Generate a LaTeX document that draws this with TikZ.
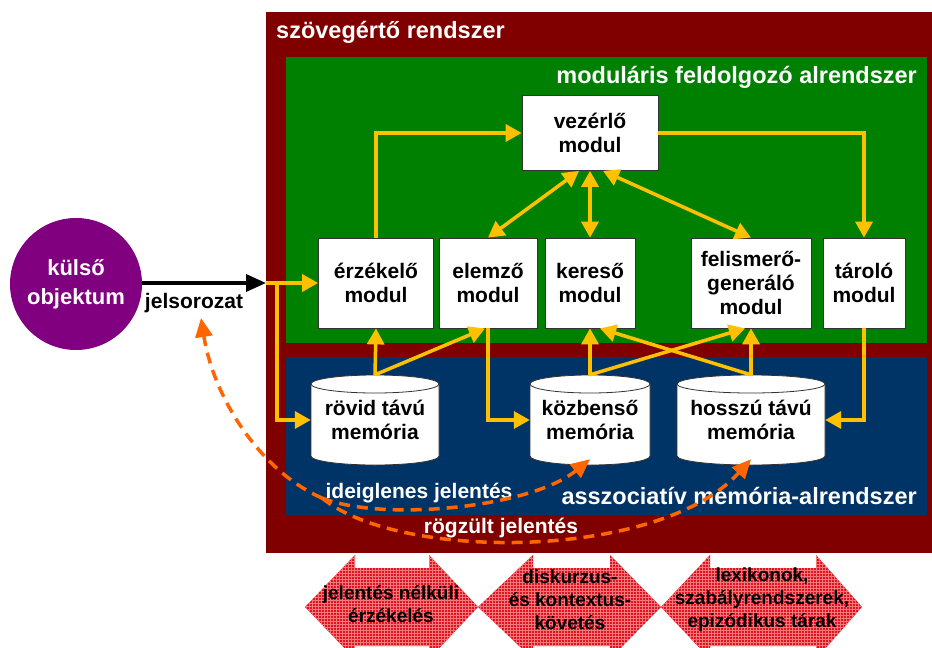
\documentclass[tikz,border=0pt]{standalone}
\usepackage{fontspec}
\setmainfont{Liberation Sans}
\usetikzlibrary{arrows.meta,patterns}

\definecolor{framered}{RGB}{128,0,0}
\definecolor{modgreen}{RGB}{0,128,0}
\definecolor{memblue}{RGB}{0,51,102}
\definecolor{objpurple}{RGB}{128,0,128}
\definecolor{flow}{RGB}{255,192,0}
\definecolor{recall}{RGB}{255,102,0}
\definecolor{stagered}{RGB}{222,20,32}
\definecolor{stagegrid}{RGB}{245,120,125}
\definecolor{boxline}{RGB}{50,50,50}

% memory drum: centre x, centre y, half width (height 90, lid 9)
\newcommand\memdrum[3]{%
  \draw[boxline, line width=0.8pt, fill=white]
    ({#1-#3},{#2-36}) -- ({#1-#3},{#2+36})
    arc[start angle=180, end angle=360, x radius=#3pt, y radius=9pt]
    -- ({#1+#3},{#2-36})
    arc[start angle=0, end angle=180, x radius=#3pt, y radius=9pt] -- cycle;
  \draw[boxline, line width=0.8pt] ({#1-#3},{#2-36})
    arc[start angle=180, end angle=360, x radius=#3pt, y radius=9pt];}

% hatched double arrow: left tip, left head base, right head base, right tip
\newcommand\stagearrow[4]{%
  \path[stagefill] (#1,607) -- (#2,555) -- (#2,568) -- (#3,568) -- (#3,555)
    -- (#4,607) -- (#3,659) -- (#3,646) -- (#2,646) -- (#2,659) -- cycle;}

\begin{document}
\begin{tikzpicture}[x=1pt, y=-1pt,
  modbox/.style={draw=boxline, line width=0.8pt, fill=white, align=center,
    inner sep=0pt, font=\bfseries\fontsize{21}{24}\selectfont},
  memtext/.style={align=center, inner sep=0pt, minimum height=90pt,
    font=\bfseries\fontsize{21}{24}\selectfont},
  titletext/.style={text=white, inner sep=0pt,
    font=\bfseries\fontsize{23.5}{27}\selectfont},
  labeltext/.style={inner sep=0pt, font=\bfseries\fontsize{21}{24}\selectfont},
  stagetext/.style={align=center, inner sep=0pt,
    font=\bfseries\fontsize{19}{23}\selectfont},
  stagefill/.style={fill=stagered, postaction={pattern=grid, pattern color=stagegrid}},
  flowarrow/.style={draw=flow, line width=3.5pt, -{Triangle[length=16pt,width=17pt]}},
  flowboth/.style={draw=flow, line width=3.5pt,
    {Triangle[length=16pt,width=17pt]}-{Triangle[length=16pt,width=17pt]}},
  recallline/.style={draw=recall, line width=3.5pt, dash pattern=on 11pt off 7pt},
  recallarrow/.style={recallline, -{Triangle[length=19pt,width=17pt]}}]

\useasboundingbox (0,0) rectangle (932,648);

% nested subsystems
\fill[framered] (266,12) rectangle (932,553);
\fill[modgreen] (286,57) rectangle (927,343);
\fill[memblue] (286,357) rectangle (927,515);

\node[titletext, anchor=west] (systitle) at (276,32) {szövegértő rendszer};
\node[titletext, anchor=east] (modtitle) at (917,77) {moduláris feldolgozó alrendszer};
\node[titletext, anchor=east] (memtitle) at (917,496) {asszociatív memória-alrendszer};

% processing modules
\node[modbox, minimum width=136pt, minimum height=75pt] (vez) at (590,133) {vezérlő\\modul};
\node[modbox, minimum width=115pt, minimum height=90pt] (erz) at (376,283) {érzékelő\\modul};
\node[modbox, minimum width=98pt, minimum height=90pt] (elem) at (488,283) {elemző\\modul};
\node[modbox, minimum width=90pt, minimum height=90pt] (ker) at (590,283) {kereső\\modul};
\node[modbox, minimum width=120pt, minimum height=90pt] (fel) at (751,283) {felismerő-\\generáló\\modul};
\node[modbox, minimum width=82pt, minimum height=90pt] (tar) at (864,283) {tároló\\modul};

% memories
\memdrum{375}{420}{64}
\memdrum{590}{420}{60}
\memdrum{751}{420}{74}
\node[memtext, minimum width=128pt] (rm) at (375,420) {rövid távú\\memória};
\node[memtext, minimum width=120pt] (km) at (590,420) {közbenső\\memória};
\node[memtext, minimum width=148pt] (hm) at (751,420) {hosszú távú\\memória};

% external object and input signal
\node[circle, fill=objpurple, minimum size=132pt, inner sep=0pt, align=center, text=white,
  font=\bfseries\fontsize{22}{29}\selectfont] (obj) at (76,284) {külső\\objektum};
\coordinate (inp) at (266,283);
\coordinate (split) at (277,283);
\draw[black, line width=3.5pt, -{Triangle[length=20pt,width=17pt]}] (obj.east |- inp) -- (inp);
\node[labeltext] (jel) at (194,303) {jelsorozat};

% module connections
\draw[flowarrow] (inp) -- (erz.west);
\draw[flowarrow] (split) |- (rm.west);
\draw[flowarrow] (erz.north) |- (vez.west);
\draw[flowarrow] (vez.east) -| (tar.north);
\draw[flowboth] ([xshift=-11pt]vez.south) -- (elem.north);
\draw[flowboth] (vez.south) -- (ker.north);
\draw[flowboth] ([xshift=13pt]vez.south) -- (fel.north);
\draw[flowarrow] (rm.north) -- (erz.south);
\draw[flowarrow] (rm.north) -- ([xshift=-3pt]elem.south);
\draw[flowarrow] (elem.south) |- (km.west);
\draw[flowarrow] (km.north) -- (ker.south);
\draw[flowarrow] (km.north) -- ([xshift=-6pt]fel.south);
\draw[flowarrow] (hm.north) -- (fel.south);
\draw[flowarrow] (hm.north) -- ([xshift=10pt]ker.south);
\draw[flowarrow] (tar.south) |- (hm.east);

% meaning feedback
\node[labeltext, text=white] (ideig) at (419,493) {ideiglenes jelentés};
\node[labeltext, text=white] (rogz) at (501,528) {rögzült jelentés};
\coordinate (fork) at (322,498);
\coordinate (jtip) at (201,318);
\draw[recallarrow] (fork) .. controls (262,472) and (214,400) .. (jtip);
\draw[recallarrow] (fork) .. controls (382,522) and (530,508) .. ([yshift=6pt]km.south);
\draw[recallarrow] (fork) .. controls (400,562) and (660,560) .. ([yshift=6pt]hm.south);

% processing stages
\stagearrow{305}{355}{429}{478}
\stagearrow{478}{533}{610}{661}
\stagearrow{661}{710}{816}{862}
\node[stagetext] (st1) at (391,604) {jelentés nélküli\\érzékelés};
\node[stagetext] (st2) at (570,600) {diskurzus-\\és kontextus-\\követés};
\node[stagetext] (st3) at (762,600) {lexikonok,\\szabályrendszerek,\\epizódikus tárak};
\end{tikzpicture}
\end{document}
